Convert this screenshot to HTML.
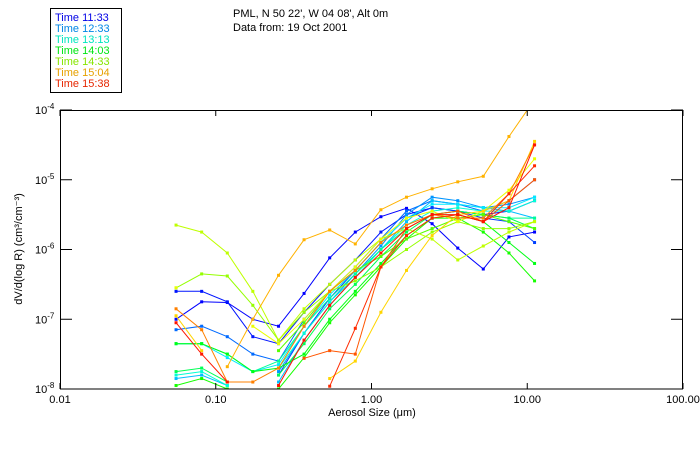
<!DOCTYPE html>
<html><head><meta charset="utf-8"><style>
body{margin:0;background:#fff;}
svg{display:block;font-family:"Liberation Sans",sans-serif;}
</style></head><body>
<svg id="chart" width="700" height="450" viewBox="0 0 700 450">
<rect x="0" y="0" width="700" height="450" fill="#fff"/>
<g>
<rect x="50.5" y="8.5" width="71" height="84" fill="none" stroke="#000" stroke-width="1"/>
<g id="legend-items" font-size="11"></g>
</g>
<text x="233" y="17" font-size="11">PML, N 50 22', W 04 08', Alt 0m</text>
<text x="233" y="31" font-size="11">Data from: 19 Oct 2001</text>
<defs><clipPath id="plotclip"><rect x="60" y="110" width="623" height="279"/></clipPath></defs>
<g id="series" clip-path="url(#plotclip)"></g>
<rect x="60.5" y="110.5" width="622" height="278.5" fill="none" stroke="#000" stroke-width="1"/>
<g id="axes" font-size="11"></g>
<text x="22" y="249" font-size="11" text-anchor="middle" transform="rotate(-90 22 249)">dV/d(log R) (cm³/cm⁻³)</text>
<text x="372" y="416" font-size="11" text-anchor="middle">Aerosol Size (μm)</text>
</svg>
<script>
const sizes = [0.0556,0.0812,0.1186,0.173,0.253,0.369,0.539,0.787,1.149,1.678,2.45,3.58,5.22,7.63,11.14];
const xTicks = [0.01,0.1,1,10,100];
const xTickLabels = ["0.01","0.10","1.00","10.00","100.00"];
const yTicks = [-8,-7,-6,-5,-4];
const legendTimes = ["Time 11:33","Time 12:33","Time 13:13","Time 14:03","Time 14:33","Time 15:04","Time 15:38"];
const legendHues = [240,205,170,125,85,42,10];
const seriesHues = [240,235,225,215,205,195,185,170,155,140,125,115,100,85,75,65,50,42,30,20,10,5];
const n = null;
const seriesLog = [
[-7.0,-6.75,-6.76,-7.0,-7.1,-6.63,-6.12,-5.75,-5.53,-5.41,-5.63,-5.98,-6.28,-5.82,-5.75],
[-6.6,-6.6,-6.75,-7.25,-7.35,-6.9,-6.5,-6.15,-5.75,-5.5,-5.4,-5.45,-5.5,-5.45,-5.3],
[n,n,n,n,-7.8,-7.2,-6.7,-6.3,-5.9,-5.55,-5.4,-5.45,-5.55,-5.6,-5.9],
[-7.15,-7.1,-7.25,-7.5,-7.6,-7.0,-6.6,-6.25,-5.85,-5.45,-5.3,-5.35,-5.45,-5.3,-5.0],
[n,n,n,n,-7.75,-7.2,-6.75,-6.35,-5.95,-5.5,-5.25,-5.3,-5.4,-5.35,-5.25],
[-7.85,-7.8,-7.95,n,-7.9,-7.3,-6.8,-6.4,-6.0,-5.6,-5.3,-5.35,-5.4,-5.45,-5.55],
[-7.35,-7.35,-7.55,-7.75,-7.65,-7.1,-6.65,-6.3,-5.9,-5.55,-5.35,-5.35,-5.4,-5.4,-5.25],
[-7.8,-7.75,-7.95,n,-7.7,-7.2,-6.75,-6.4,-6.0,-5.65,-5.45,-5.4,-5.45,-5.45,-5.3],
[-7.35,-7.35,-7.5,-7.75,-7.6,-7.1,-6.7,-6.35,-6.0,-5.7,-5.5,-5.45,-5.5,-5.55,-5.55],
[-7.75,-7.7,-7.9,n,-7.8,-7.35,-6.85,-6.5,-6.1,-5.75,-5.5,-5.45,-5.5,-5.55,-5.7],
[-7.35,-7.35,-7.5,-7.75,-7.7,-7.5,-7.0,-6.6,-6.2,-5.8,-5.55,-5.5,-5.6,-5.9,-6.2],
[-7.95,-7.85,-8.0,n,-8.0,-7.55,-7.05,-6.65,-6.25,-5.85,-5.55,-5.55,-5.75,-6.05,-6.45],
[n,n,n,n,-7.45,-7.05,-6.6,-6.3,-6.1,-5.85,-5.7,-5.55,-5.5,-5.6,-5.7],
[-6.55,-6.35,-6.38,-6.8,-7.3,-6.9,-6.6,-6.45,-6.25,-6.0,-5.75,-5.6,-5.7,-5.7,-5.6],
[-5.65,-5.75,-6.05,-6.6,-7.3,-6.85,-6.5,-6.15,-5.85,-5.7,-5.85,-6.15,-5.95,-5.75,-5.6],
[-6.55,n,n,-7.1,-7.35,-7.0,-6.6,-6.25,-5.85,-5.55,-5.45,-5.6,-5.45,-5.15,-4.7],
[-6.95,-7.45,n,n,n,n,-7.85,-7.6,-6.9,-6.3,-5.8,-5.5,-5.45,-5.3,-4.45],
[n,n,-7.68,-7.0,-6.37,-5.86,-5.72,-5.92,-5.43,-5.25,-5.13,-5.03,-4.95,-4.38,-3.85],
[-6.85,-7.15,-7.9,-7.9,-7.7,-7.1,-6.6,-6.3,-5.9,-5.65,-5.5,-5.55,-5.55,-5.2,-4.5],
[n,n,n,n,n,-7.56,-7.45,-7.5,-6.25,-5.7,-5.5,-5.45,-5.6,-5.3,-5.0],
[n,n,n,n,n,n,-7.96,-7.13,-6.25,-5.8,-5.55,-5.5,-5.6,-5.2,-4.8],
[-7.05,-7.5,-7.9,n,-7.95,-7.3,-6.8,-6.4,-6.05,-5.7,-5.5,-5.5,-5.6,-5.4,-4.5]
];
const NS="http://www.w3.org/2000/svg";
const X0=60,X1=683,Y0=389,Y1=110;
function xScale(v){return X0+(Math.log10(v)+2)/4*(X1-X0);}
function yScale(lg){return Y0-(lg+8)/4*(Y0-Y1);}
function mk(tag,attrs,parent){const e=document.createElementNS(NS,tag);for(const k in attrs)e.setAttribute(k,attrs[k]);parent.appendChild(e);return e;}
const axes=document.getElementById('axes');
xTicks.forEach((t,i)=>{
 const x=xScale(t);
 const a=mk('line',{x1:x,x2:x,y1:Y0,y2:Y0-6,stroke:'#000'},axes);
 
 
 const b=mk('line',{x1:x,x2:x,y1:Y1,y2:Y1+6,stroke:'#000'},axes);
 
 
 const tx=mk('text',{x:x,y:Y0+14,'text-anchor':'middle'},axes);
 tx.textContent=xTickLabels[i];
 
 
});
yTicks.forEach(t=>{
 const y=yScale(t);
 const a=mk('line',{x1:X0,x2:X0+12,y1:y,y2:y,stroke:'#000'},axes);
 
 
 const b=mk('line',{x1:X1-12,x2:X1,y1:y,y2:y,stroke:'#000'},axes);
 
 
 const tx=mk('text',{x:35,y:y+4},axes);
 tx.textContent='10';
 const sp=mk('tspan',{dy:-5,'font-size':8},tx);
 sp.textContent=String(t);
 
 
});
const sg=document.getElementById('series');
seriesLog.forEach((vals,si)=>{
 const col='hsl('+seriesHues[si]+',100%,50%)';
 const g=mk('g',{},sg);
 
 
 let seg=[];
 const flush=()=>{if(seg.length>1)mk('polyline',{points:seg.join(' '),fill:'none',stroke:col,'stroke-width':1},g);seg=[];};
 vals.forEach((v,k)=>{
  if(v===null){flush();return;}
  seg.push(xScale(sizes[k]).toFixed(1)+','+yScale(v).toFixed(1));
 });
 flush();
 vals.forEach((v,k)=>{
  if(v===null)return;
  const r=mk('rect',{x:xScale(sizes[k])-1.5,y:yScale(v)-1.5,width:3,height:3,fill:col},g);
  
  
 });
});
const lg=document.getElementById('legend-items');
legendTimes.forEach((t,i)=>{
 const tx=mk('text',{x:55,y:21+i*11,fill:'hsl('+legendHues[i]+',100%,45%)'},lg);
 tx.textContent=t;
 
 
});
</script>
</body></html>
